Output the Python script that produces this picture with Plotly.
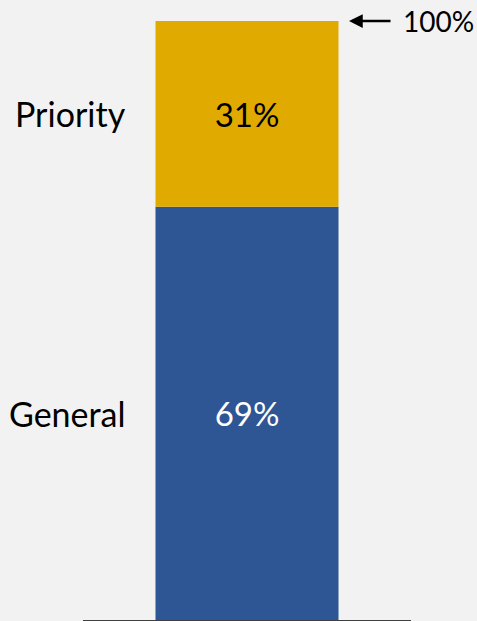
import plotly.graph_objects as go

segments = ["General", "Priority"]
shares = [69, 31]
colors = ["#2E5594", "#E0AA00"]
text_colors = ["#FFFFFF", "#000000"]
total_label = "100%"

FONT = "Lato"

fig = go.Figure()
base = 0
for name, val, col, tc in zip(segments, shares, colors, text_colors):
    fig.add_trace(go.Bar(
        x=[0], y=[val], base=[base], width=0.558,
        marker=dict(color=col, line=dict(width=0)),
        text=[f"{val}%"], textposition="inside", insidetextanchor="middle",
        textfont=dict(color=tc, size=33, family=FONT),
        showlegend=False, hoverinfo="skip",
    ))
    fig.add_annotation(x=-0.364, y=base + val / 2, xref="x", yref="y",
                       text=name, showarrow=False, xanchor="right",
                       font=dict(size=34, color="#000000", family=FONT))
    base += val

fig.add_annotation(x=0.311, y=base, xref="x", yref="y", ax=43, ay=0,
                   text="", showarrow=True, arrowhead=2, arrowsize=1.1,
                   arrowwidth=2.5, arrowcolor="#000000")
fig.add_annotation(x=0.47, y=base, xref="x", yref="y", text=total_label,
                   showarrow=False, xanchor="left",
                   font=dict(size=28, color="#000000", family=FONT))

fig.update_layout(
    width=477, height=621,
    margin=dict(l=83, r=66, t=21, b=1),
    paper_bgcolor="#F2F2F2", plot_bgcolor="#F2F2F2",
    barmode="overlay",
    xaxis=dict(range=[-0.5, 0.5], showticklabels=False, showgrid=False,
               zeroline=False, showline=True, linecolor="#404040", linewidth=2),
    yaxis=dict(range=[0, 100], showticklabels=False, showgrid=False,
               zeroline=False, showline=False),
)
fig.write_html(
    "out.html",
    config={"displayModeBar": False},
    post_script="document.body.style.margin='0';document.body.style.background='#F2F2F2';document.body.style.overflow='hidden';",
)
